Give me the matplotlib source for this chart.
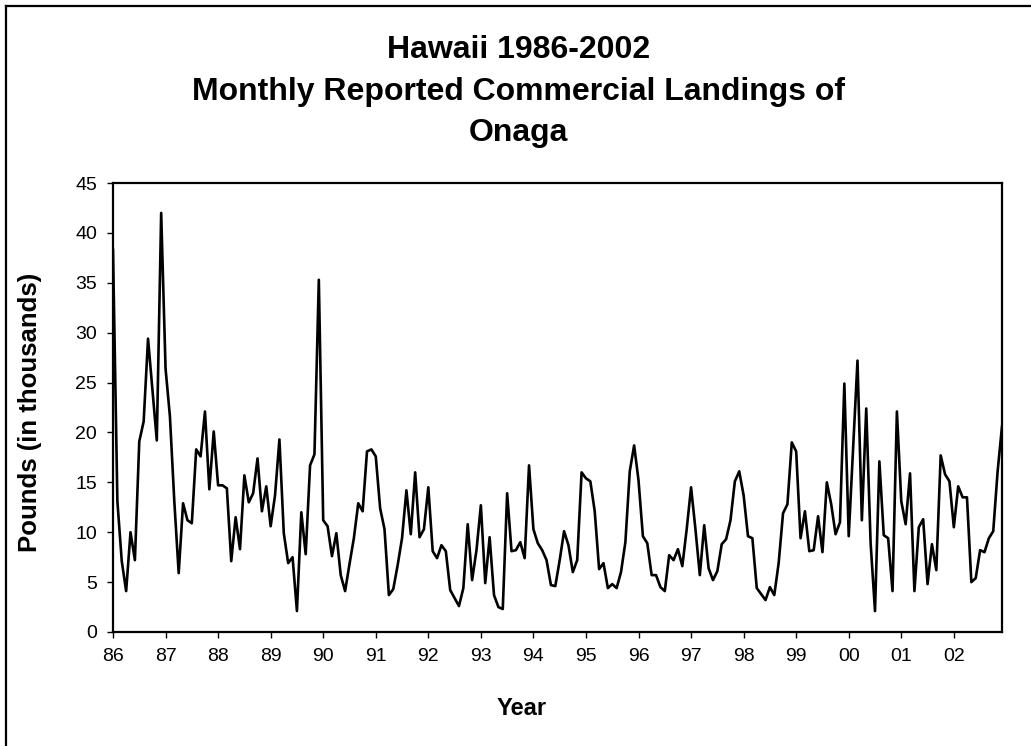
import numpy as np
import matplotlib
matplotlib.use('Agg')
import matplotlib.pyplot as plt
from matplotlib.lines import Line2D

plt.rcParams['font.family'] = ['Liberation Sans', 'DejaVu Sans']

# monthly landings, thousands of pounds, one row per year (Jan..Dec)
landings = [
    38.3, 13.1, 7.1, 4.1, 10.0, 7.2, 19.1, 21.1, 29.4, 24.3, 19.2, 42.0,    # 1986
    26.4, 21.6, 13.1, 5.9, 12.9, 11.2, 10.9, 18.3, 17.6, 22.1, 14.3, 20.1,  # 1987
    14.7, 14.7, 14.4, 7.1, 11.5, 8.3, 15.7, 13.0, 13.9, 17.4, 12.1, 14.6,   # 1988
    10.6, 13.7, 19.3, 9.9, 6.9, 7.5, 2.1, 12.0, 7.8, 16.7, 17.8, 35.3,      # 1989
    11.2, 10.6, 7.6, 9.9, 5.7, 4.1, 6.8, 9.4, 12.9, 12.1, 18.1, 18.3,       # 1990
    17.6, 12.4, 10.3, 3.7, 4.3, 6.7, 9.4, 14.2, 9.8, 16.0, 9.5, 10.3,       # 1991
    14.5, 8.1, 7.4, 8.7, 8.1, 4.2, 3.4, 2.6, 4.4, 10.8, 5.2, 8.2,           # 1992
    12.7, 4.9, 9.5, 3.7, 2.5, 2.3, 13.9, 8.1, 8.2, 9.0, 7.4, 16.7,          # 1993
    10.3, 8.9, 8.2, 7.2, 4.7, 4.6, 7.2, 10.1, 8.7, 6.0, 7.2, 16.0,          # 1994
    15.4, 15.1, 12.1, 6.3, 6.9, 4.4, 4.8, 4.4, 6.0, 9.0, 16.1, 18.7,        # 1995
    15.2, 9.6, 8.9, 5.7, 5.7, 4.5, 4.1, 7.7, 7.2, 8.3, 6.6, 10.3,           # 1996
    14.5, 10.3, 5.7, 10.7, 6.4, 5.2, 6.1, 8.8, 9.3, 11.2, 15.1, 16.1,       # 1997
    13.7, 9.6, 9.4, 4.4, 3.8, 3.2, 4.5, 3.7, 6.9, 11.9, 12.8, 19.0,         # 1998
    18.1, 9.4, 12.1, 8.1, 8.2, 11.6, 8.0, 15.0, 12.8, 9.8, 11.0, 24.9,      # 1999
    9.6, 18.4, 27.2, 11.2, 22.4, 8.9, 2.1, 17.1, 9.7, 9.4, 4.1, 22.1,       # 2000
    13.1, 10.8, 15.9, 4.1, 10.5, 11.3, 4.8, 8.8, 6.2, 17.7, 15.8, 15.1,     # 2001
    10.5, 14.6, 13.5, 13.5, 5.0, 5.4, 8.2, 8.0, 9.4, 10.1, 16.1, 20.6,      # 2002
]
year_labels = ['86', '87', '88', '89', '90', '91', '92', '93', '94',
               '95', '96', '97', '98', '99', '00', '01', '02']
y_ticks = [0, 5, 10, 15, 20, 25, 30, 35, 40, 45]

W, H = 1031, 746
fig = plt.figure(figsize=(W / 100, H / 100), dpi=100)

# plot area in pixels: left 113, right 1002, top 183, bottom 632
ax = fig.add_axes([113 / W, 1 - 632 / H, 889 / W, 449 / H])

months = np.arange(len(landings))
ax.plot(months, landings, color='black', linewidth=1.9)

ax.set_xlim(0, len(landings) - 1)
ax.set_ylim(0, 45)
ax.set_xticks(np.arange(len(year_labels)) * 12)
ax.set_xticklabels(year_labels)
ax.set_yticks(y_ticks)

for s in ax.spines.values():
    s.set_linewidth(1.6)
    s.set_color('black')
ax.tick_params(axis='both', direction='out', length=4.5, width=1.0,
               labelsize=14, colors='black')
ax.tick_params(axis='y', pad=7)
ax.tick_params(axis='x', pad=7)

ax.set_ylabel('Pounds (in thousands)', fontsize=18.5, fontweight='bold')
ax.yaxis.set_label_coords(-0.08, 0.49)
ax.set_xlabel('Year', fontsize=17, fontweight='bold')
ax.xaxis.set_label_coords(0.46, -0.145)

# three-line chart title
title_lines = ['Hawaii 1986-2002', 'Monthly Reported Commercial Landings of', 'Onaga']
for line, base in zip(title_lines, [58, 100, 141]):
    fig.text(0.503, 1 - base / H, line, ha='center', va='baseline',
             fontsize=23, fontweight='bold')

# chart border (left and top edges)
bx, by = 6.3 / W, 1 - 6.3 / H
fig.add_artist(Line2D([bx, bx], [0, by], color='black', linewidth=1.6))
fig.add_artist(Line2D([bx, 1], [by, by], color='black', linewidth=1.6))

fig.savefig('out.png', dpi=100)
